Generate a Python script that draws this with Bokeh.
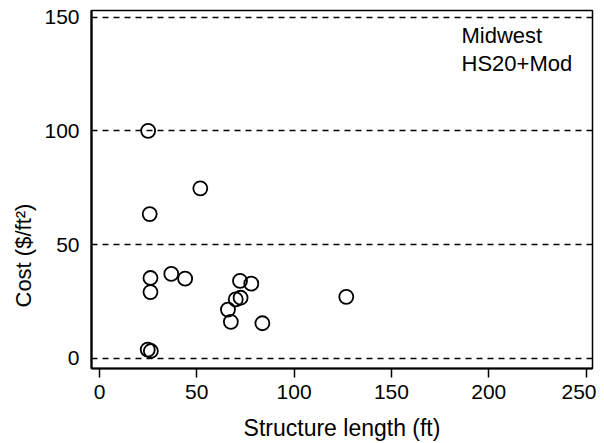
import math
from bokeh.plotting import figure
from bokeh.models import Label, FixedTicker, Range1d
from bokeh.embed import file_html
from bokeh.resources import INLINE

# Data
structure_length = [25.0, 25.8, 51.8, 26.2, 26.2, 36.9, 44.0, 66.0, 67.5, 70.0, 72.5, 72.2, 78.0, 83.7, 126.8, 24.8, 26.4]
cost = [100.0, 63.4, 74.7, 35.3, 29.1, 37.1, 35.0, 21.4, 16.0, 25.9, 26.6, 34.0, 32.8, 15.4, 27.0, 3.8, 3.2]
x_ticks = [0, 50, 100, 150, 200, 250]
y_ticks = [0, 50, 100, 150]
annotation_lines = ["Midwest", "HS20+Mod"]
y_title = "Cost ($/ft²)"

FONT = "Liberation Sans"

p = figure(frame_width=501, frame_height=358,
           x_range=Range1d(-4.1, 253.3), y_range=Range1d(-4.5, 152.9),
           output_backend="svg", toolbar_location=None,
           min_border_left=91, min_border_right=4, min_border_top=10, min_border_bottom=72)

p.background_fill_color = "white"
p.border_fill_color = "white"
p.outline_line_color = "black"
p.outline_line_width = 1.5
p.outline_line_alpha = 1.0

# y axis title, drawn as a left-side title so it can be offset along the axis
p.title_location = "left"
p.title.text = y_title
p.title.align = "left"
p.title.offset = 61
p.title.text_font = FONT
p.title.text_font_size = "22px"
p.title.text_font_style = "normal"
p.title.text_color = "black"
p.title.standoff = 11

# x axis
xa = p.xaxis[0]
xa.ticker = FixedTicker(ticks=x_ticks)
xa.axis_label = "Structure length (ft)"
xa.axis_label_text_font = FONT
xa.axis_label_text_font_size = "23px"
xa.axis_label_text_font_style = "normal"
xa.axis_label_text_color = "black"
xa.axis_label_standoff = 13
xa.major_label_text_font = FONT
xa.major_label_text_font_size = "21px"
xa.major_label_text_color = "black"
xa.major_label_standoff = 7
xa.major_tick_out = 9
xa.major_tick_in = 0
xa.major_tick_line_width = 1.5
xa.major_tick_line_color = "black"
xa.minor_tick_out = 0
xa.minor_tick_in = 0
xa.axis_line_width = 2
xa.axis_line_color = "black"

# y axis
ya = p.yaxis[0]
ya.ticker = FixedTicker(ticks=y_ticks)
ya.major_label_text_font = FONT
ya.major_label_text_font_size = "21px"
ya.major_label_text_color = "black"
ya.major_label_standoff = 12
ya.major_tick_out = 0
ya.major_tick_in = 0
ya.minor_tick_out = 0
ya.minor_tick_in = 0
ya.axis_line_width = 2.2
ya.axis_line_color = "black"

# grid
p.xgrid.visible = False
p.ygrid.ticker = FixedTicker(ticks=y_ticks)
p.ygrid.grid_line_color = "black"
p.ygrid.grid_line_dash = "6 5"
p.ygrid.grid_line_width = 1.6

p.scatter(x=structure_length, y=cost, marker="circle", size=14,
          fill_color=None, line_color="black", line_width=1.8)

# annotation text
for i, line in enumerate(annotation_lines):
    p.add_layout(Label(x=186.0, y=141.8 - i * 12.3, text=line,
                       text_align="left", text_baseline="alphabetic",
                       text_font=FONT, text_font_size="22px", text_color="black"))

open("out.html", "w").write(file_html(p, INLINE))
